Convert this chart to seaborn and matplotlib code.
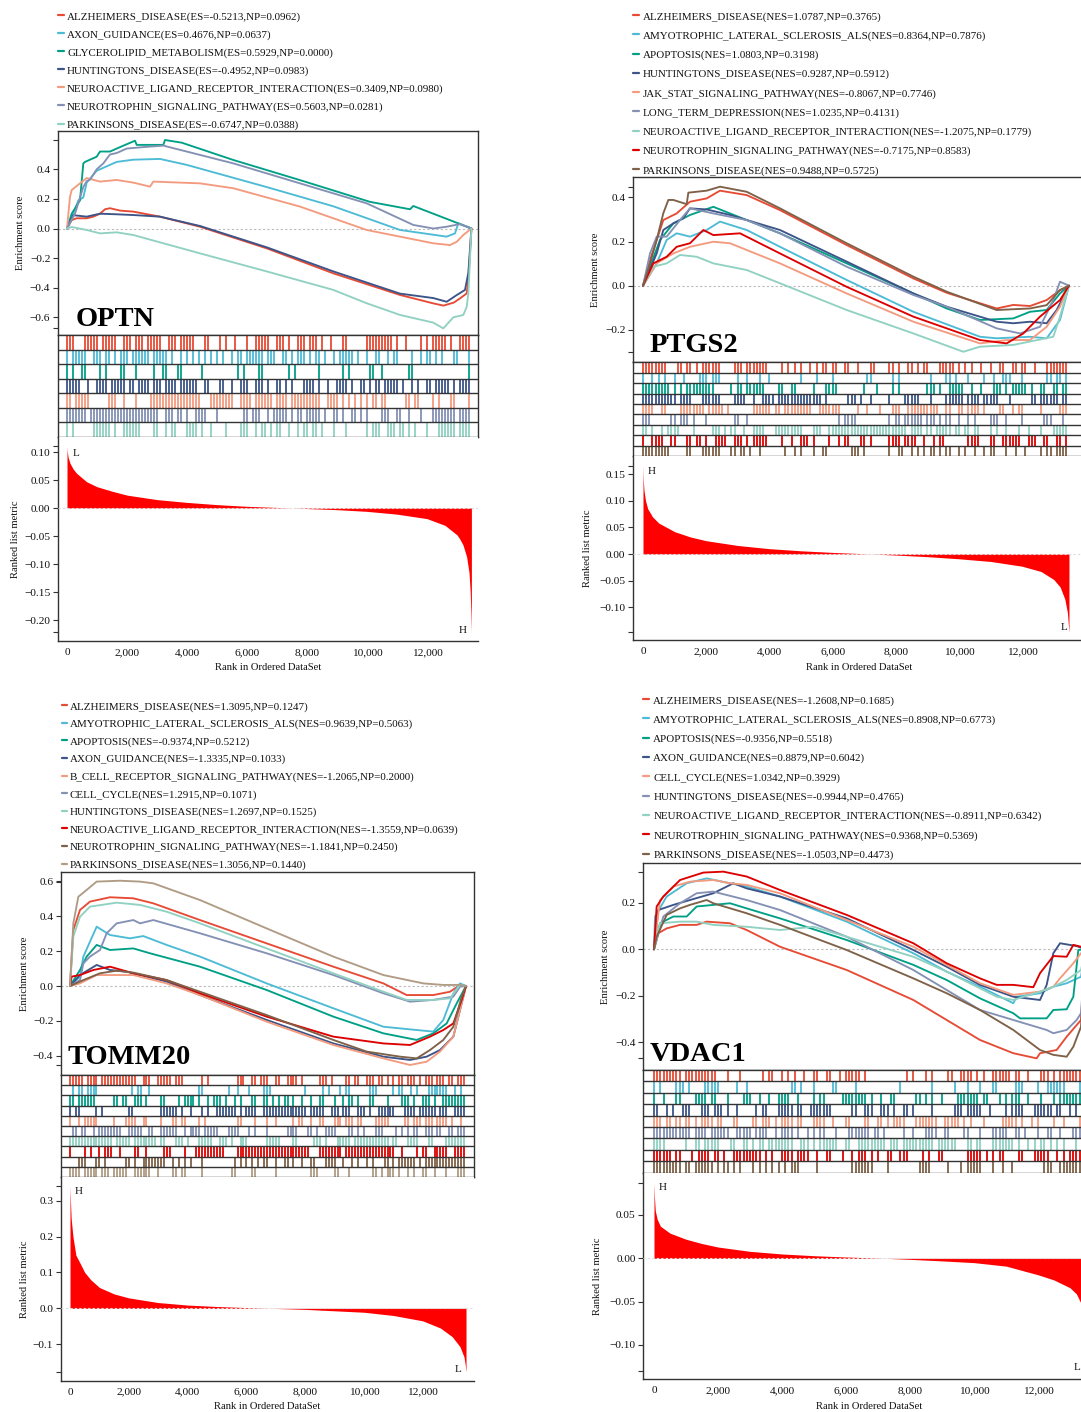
import numpy as np
import pandas as pd
import matplotlib
matplotlib.use("Agg")
import matplotlib.pyplot as plt
from matplotlib.lines import Line2D
from matplotlib.ticker import FuncFormatter, FixedLocator
import seaborn as sns

sns.set_theme(style="white")
plt.rcParams["font.family"] = ["Liberation Serif", "DejaVu Serif"]
plt.rcParams["axes.unicode_minus"] = True

W, H = 1081, 1412
NPG = ["#E64B35", "#4DBBD5", "#00A087", "#3C5488", "#F39B7F",
       "#8491B4", "#91D1C2", "#DC0000", "#7E6148", "#B09C85"]
XTICKS = [0, 2000, 4000, 6000, 8000, 10000, 12000]

# ---------------------------------------------------------------- OPTN
OPTN_SETS = ["ALZHEIMERS_DISEASE", "AXON_GUIDANCE", "GLYCEROLIPID_METABOLISM",
             "HUNTINGTONS_DISEASE", "NEUROACTIVE_LIGAND_RECEPTOR_INTERACTION",
             "NEUROTROPHIN_SIGNALING_PATHWAY", "PARKINSONS_DISEASE"]
OPTN_SCORE = [-0.5213, 0.4676, 0.5929, -0.4952, 0.3409, 0.5603, -0.6747]
OPTN_NP = [0.0962, 0.0637, 0.0000, 0.0983, 0.0980, 0.0281, 0.0388]
OPTN_ES = [
    [(0, 0), (156, .057), (322, .069), (656, .069), (878, .08), (1100, .10), (1267, .13), (1433, .137), (1767, .121), (2211, .114), (3100, .08), (4433, .012), (6656, -.134), (8878, -.303), (11100, -.449), (12211, -.506), (12550, -.521), (12900, -.50), (13100, -.472), (13322, -.439), (13378, -.349), (13433, -.168), (13480, 0)],
    [(0, 0), (211, .10), (378, .19), (544, .21), (656, .31), (989, .39), (1322, .42), (1656, .45), (2211, .465), (3100, .47), (3989, .43), (6656, .28), (8878, .15), (11100, -.01), (12656, -.055), (12933, -.033), (13044, .035), (13480, 0)],
    [(0, 0), (156, .10), (433, .19), (544, .44), (600, .45), (989, .485), (1100, .52), (1433, .52), (1767, .55), (2267, .593), (2322, .565), (3211, .565), (3267, .598), (3822, .58), (5544, .463), (7767, .327), (10100, .18), (11433, .13), (11544, .152), (12989, .039), (13480, 0)],
    [(0, 0), (211, .09), (656, .08), (1100, .10), (1656, .096), (2211, .091), (3100, .08), (4433, .017), (6656, -.127), (8878, -.29), (11100, -.44), (12211, -.47), (12656, -.495), (12989, -.45), (13267, -.415), (13378, -.30), (13480, 0)],
    [(0, 0), (100, .215), (156, .26), (433, .305), (656, .341), (1100, .317), (1656, .328), (2211, .31), (2767, .283), (2878, .317), (4433, .305), (5544, .272), (7767, .148), (9989, -.01), (12211, -.10), (12767, -.112), (12989, -.09), (13211, -.044), (13480, 0)],
    [(0, 0), (267, .10), (433, .21), (544, .28), (656, .32), (767, .33), (989, .40), (1211, .44), (1433, .50), (1656, .51), (1989, .54), (2544, .55), (3211, .560), (5544, .44), (7767, .305), (9989, .17), (11544, .024), (12211, 0), (12656, .012), (13100, .03), (13480, 0)],
    [(0, 0), (156, .01), (656, -.01), (1100, -.033), (1656, -.026), (2211, -.044), (4433, -.168), (6656, -.29), (8878, -.415), (9989, -.505), (11100, -.584), (12211, -.636), (12544, -.675), (12878, -.60), (13211, -.584), (13322, -.53), (13378, -.44), (13480, 0)],
]
# hit positions, in hundreds of ranks
OPTN_HITS = [
    [0,1,2,6,7,8,9,10,12,13,14,15,16,19,20,21,23,24,25,27,28,29,30,31,34,35,36,38,39,40,41,42,46,47,51,53,56,60,63,64,65,66,67,70,71,72,74,77,78,79,81,82,83,85,88,92,93,100,101,102,103,104,105,106,107,108,110,113,118,120,122,123,124,125,126,128,131,132,133,134],
    [0,2,3,4,5,6,9,10,11,13,14,16,18,19,20,22,23,24,25,26,27,29,30,31,32,33,35,38,40,42,44,46,48,50,52,55,57,58,60,61,62,63,64,65,67,68,69,72,73,75,77,78,79,81,83,84,86,89,91,92,93,94,95,97,100,103,104,107,109,110,115,118,120,121,123,125,129,130,134],
    [0,2,5,6,11,13,18,19,23,29,32,33,37,38,45,57,59,64,65,74,76,84,92,94,101,102,105,114,115,134],
    [0,1,2,3,4,7,10,11,12,13,15,16,17,18,19,21,22,24,25,26,27,29,30,31,33,34,35,36,38,39,40,41,42,43,46,47,51,52,55,58,59,60,63,64,65,67,70,71,73,75,79,80,81,82,84,87,90,91,92,93,95,98,99,101,103,104,106,107,108,109,110,112,115,117,120,121,123,124,125,126,127,129,131,132,133,134],
    [0,1,3,4,5,6,7,14,15,16,19,23,28,29,30,31,32,33,34,35,36,37,38,39,40,41,42,43,44,48,49,50,51,52,53,54,55,58,59,60,61,63,64,65,66,67,68,70,71,72,73,75,76,77,78,79,80,81,82,83,84,87,88,89,90,92,94,96,98,100,102,103,105,106,113,114,116,117,122,124,128,129,134],
    [0,1,2,3,4,5,6,8,9,10,11,12,13,14,15,16,17,18,19,20,21,22,23,24,25,26,27,28,29,30,33,34,35,37,38,40,43,44,45,46,50,59,60,62,63,64,67,69,70,71,72,73,75,77,78,80,81,82,83,84,86,89,90,92,95,96,98,100,105,106,107,110,111,114,118,122,123,124,125,126,127,128,129,131,132,133,134],
    [0,2,9,10,11,12,13,14,16,19,20,21,22,23,24,29,30,33,35,36,40,41,42,43,45,48,53,58,59,60,63,65,66,68,70,71,74,77,79,80,82,83,85,89,93,100,102,103,104,107,108,109,111,112,114,116,120,124,125,126,127,128,129,131,132,133,134],
]
OPTN_METRIC = [(0, .110), (10, .100), (40, .090), (100, .080), (200, .070), (320, .062), (650, .047), (1000, .038), (1500, .030), (2000, .023), (3000, .015), (4000, .010), (5000, .006), (6000, .003), (7000, .001), (8000, -.001), (9000, -.003), (10000, -.006), (11000, -.011), (12000, -.019), (12600, -.031), (13000, -.048), (13100, -.056), (13200, -.066), (13320, -.087), (13400, -.115), (13440, -.15), (13465, -.19), (13480, -.222)]

# ---------------------------------------------------------------- PTGS2
PTGS2_SETS = ["ALZHEIMERS_DISEASE", "AMYOTROPHIC_LATERAL_SCLEROSIS_ALS", "APOPTOSIS",
              "HUNTINGTONS_DISEASE", "JAK_STAT_SIGNALING_PATHWAY", "LONG_TERM_DEPRESSION",
              "NEUROACTIVE_LIGAND_RECEPTOR_INTERACTION", "NEUROTROPHIN_SIGNALING_PATHWAY",
              "PARKINSONS_DISEASE"]
PTGS2_SCORE = [1.0787, 0.8364, 1.0803, 0.9287, -0.8067, 1.0235, -1.2075, -0.7175, 0.9488]
PTGS2_NP = [0.3765, 0.7876, 0.3198, 0.5912, 0.7746, 0.4131, 0.1779, 0.8583, 0.5725]
PTGS2_ES = [
    [(0, 0), (222, .116), (643, .297), (1065, .327), (1487, .38), (2015, .395), (2437, .43), (3281, .41), (4335, .342), (6445, .184), (8555, .033), (9610, -.032), (11192, -.103), (11719, -.087), (12247, -.092), (12774, -.065), (13196, -.02), (13480, 0)],
    [(0, 0), (433, .101), (749, .207), (1065, .237), (1487, .222), (2015, .252), (2437, .29), (3281, .252), (4335, .176), (6445, .026), (8555, -.118), (10665, -.231), (11192, -.238), (12247, -.231), (12774, -.238), (13196, -.155), (13480, 0)],
    [(0, 0), (538, .207), (960, .282), (1487, .32), (2226, .357), (2753, .327), (4335, .237), (6445, .101), (8555, -.035), (9610, -.103), (10665, -.155), (11719, -.148), (12247, -.118), (12774, -.11), (13196, -.035), (13480, 0)],
    [(0, 0), (433, .146), (643, .252), (960, .282), (1276, .305), (1487, .35), (2015, .345), (2753, .32), (4335, .252), (6445, .109), (8555, -.035), (9610, -.095), (11192, -.163), (11719, -.17), (12247, -.163), (12774, -.17), (13091, -.11), (13480, 0)],
    [(0, 0), (433, .101), (960, .146), (1487, .176), (2226, .199), (2753, .192), (4335, .101), (6445, -.035), (8555, -.163), (10665, -.261), (11508, -.246), (12247, -.246), (12774, -.186), (13196, -.095), (13480, 0)],
    [(0, 0), (222, .146), (433, .222), (749, .222), (1171, .297), (1487, .35), (2226, .327), (3281, .297), (4335, .237), (6445, .086), (8555, -.042), (9610, -.095), (11192, -.193), (11930, -.216), (12563, -.186), (12985, -.065), (13196, .018), (13480, 0)],
    [(0, 0), (327, .086), (749, .101), (1171, .139), (1698, .131), (2226, .101), (3281, .071), (4335, .011), (6445, -.11), (8555, -.216), (10137, -.299), (10665, -.276), (11719, -.268), (12985, -.231), (13196, -.14), (13480, 0)],
    [(0, 0), (327, .101), (749, .131), (1065, .176), (1487, .192), (1909, .252), (2226, .229), (3070, .237), (4335, .146), (6445, -.005), (8555, -.14), (10665, -.246), (11508, -.261), (12036, -.216), (12563, -.14), (13196, -.065), (13480, 0)],
    [(0, 0), (222, .101), (433, .207), (643, .328), (802, .388), (960, .388), (1382, .369), (1435, .421), (2015, .43), (2437, .448), (3281, .425), (4335, .35), (6445, .192), (8555, .041), (9610, -.027), (11192, -.11), (12247, -.103), (12774, -.088), (13196, -.02), (13480, 0)],
]
PTGS2_HITS = [
    [0,1,2,3,4,5,6,7,11,12,14,15,17,19,20,21,22,23,24,29,30,31,33,34,35,36,37,38,39,44,46,48,50,53,55,57,58,60,61,64,65,68,72,73,78,79,81,84,85,87,89,90,94,95,96,97,98,100,102,104,107,110,113,114,117,118,120,121,124,128,129,130,131,132,133,134],
    [0,3,5,7,10,13,18,19,20,22,23,24,30,33,37,40,50,55,60,71,72,79,81,91,96,97,99,103,108,111,114,115,116,120,128,129,131,132,134],
    [0,1,2,3,4,5,6,7,8,10,12,14,15,16,17,18,19,20,21,22,28,30,31,33,34,35,36,37,38,43,44,47,48,54,58,59,60,61,70,74,79,81,90,91,92,94,97,98,99,100,101,104,107,111,112,113,115,117,118,119,120,121,123,126,127,130,131,133,134],
    [0,1,2,3,4,5,6,7,8,9,10,12,13,14,15,19,20,21,22,23,24,29,30,31,32,35,38,39,40,41,43,44,45,46,47,48,49,50,51,52,53,54,55,56,58,65,66,67,69,72,78,83,84,85,86,87,91,96,97,98,99,100,101,103,104,105,106,108,109,110,111,112,116,123,124,126,127,128,129,130,131,133,134],
    [0,1,2,3,6,7,12,13,14,15,16,17,18,19,21,22,23,24,25,27,35,36,37,38,39,40,42,43,45,46,47,48,49,50,51,52,53,56,57,58,59,60,61,62,68,71,75,79,80,81,84,85,86,87,88,89,90,91,92,93,96,97,100,101,103,104,105,106,108,113,114,117,119,120,126,132,133,134],
    [0,1,2,9,10,12,13,14,16,20,29,30,33,62,64,65,66,67,78,80,81,83,84,85,86,87,88,90,91,92,94,96,97,100,103,105,110,111,112,115,120,127,128,129,133],
    [0,1,3,6,8,9,10,11,16,22,23,24,26,28,29,32,35,36,37,38,42,43,44,45,46,47,48,49,50,54,55,56,59,60,61,62,63,64,65,66,67,68,69,70,71,72,73,74,75,76,77,78,79,80,81,82,83,85,86,87,88,90,91,93,94,95,96,97,99,100,102,103,105,106,110,112,115,119,122,126,130,131,132,133,134],
    [0,3,4,5,6,9,10,14,15,17,18,20,23,24,25,26,29,30,31,33,35,36,37,38,39,44,47,50,51,52,54,59,62,64,65,69,70,72,78,79,80,81,83,84,85,86,89,92,94,95,103,104,105,106,110,111,114,115,116,117,118,119,122,123,124,127,128,131,132,134],
    [0,1,2,3,4,5,6,7,8,14,15,19,20,21,22,23,24,28,29,31,32,34,37,45,48,50,54,57,58,66,67,68,70,78,81,82,85,87,89,91,92,94,96,97,100,102,105,108,110,111,115,118,121,126,128,129,131,132,133,134],
]
PTGS2_METRIC = [(0, .166), (10, .14), (30, .12), (80, .10), (150, .085), (300, .07), (500, .058), (1000, .042), (1500, .032), (2000, .025), (3000, .016), (4000, .010), (5000, .006), (6000, .003), (7000, .0005), (8000, -.002), (9000, -.005), (10000, -.009), (11000, -.014), (12000, -.023), (12600, -.033), (13000, -.048), (13200, -.062), (13350, -.085), (13430, -.11), (13470, -.14), (13480, -.147)]

# ---------------------------------------------------------------- TOMM20
TOMM20_SETS = ["ALZHEIMERS_DISEASE", "AMYOTROPHIC_LATERAL_SCLEROSIS_ALS", "APOPTOSIS",
               "AXON_GUIDANCE", "B_CELL_RECEPTOR_SIGNALING_PATHWAY", "CELL_CYCLE",
               "HUNTINGTONS_DISEASE", "NEUROACTIVE_LIGAND_RECEPTOR_INTERACTION",
               "NEUROTROPHIN_SIGNALING_PATHWAY", "PARKINSONS_DISEASE"]
TOMM20_SCORE = [1.3095, 0.9639, -0.9374, -1.3335, -1.2065, 1.2915, 1.2697, -1.3559, -1.1841, 1.3056]
TOMM20_NP = [0.1247, 0.5063, 0.5212, 0.1033, 0.2000, 0.1071, 0.1525, 0.0639, 0.2450, 0.1440]
TOMM20_ES = [
    [(0, 0), (113, .322), (340, .437), (680, .485), (1361, .51), (2154, .504), (2834, .475), (4422, .379), (6689, .245), (8957, .111), (10658, .015), (11451, -.052), (12358, -.052), (12925, -.033), (13265, .006), (13470, 0)],
    [(0, 0), (340, .054), (454, .169), (907, .341), (1361, .293), (2041, .274), (2494, .287), (3288, .236), (4422, .169), (6689, .015), (8957, -.128), (10658, -.234), (11791, -.253), (12358, -.262), (12698, -.195), (13039, -.042), (13265, .015), (13470, 0)],
    [(0, 0), (340, .092), (567, .169), (907, .236), (1361, .207), (2154, .216), (2721, .188), (4422, .111), (6689, -.023), (8957, -.176), (10658, -.272), (11791, -.31), (12358, -.272), (12812, -.215), (13152, -.10), (13470, 0)],
    [(0, 0), (340, .063), (907, .121), (1361, .092), (1927, .082), (3288, .025), (4422, -.052), (6689, -.195), (8957, -.33), (10658, -.406), (11565, -.425), (12132, -.406), (12585, -.368), (13039, -.291), (13379, -.061), (13470, 0)],
    [(0, 0), (340, .015), (907, .063), (1361, .063), (2154, .063), (3288, .015), (4422, -.052), (6689, -.205), (8957, -.339), (10658, -.416), (11565, -.454), (12132, -.435), (12585, -.377), (13039, -.291), (13379, -.061), (13470, 0)],
    [(0, 0), (340, .034), (454, .13), (680, .169), (1020, .207), (1247, .303), (1587, .36), (2154, .379), (2381, .36), (2834, .379), (4422, .303), (6689, .188), (8957, .063), (10658, -.042), (11565, -.09), (12358, -.08), (13039, -.061), (13265, -.004), (13470, 0)],
    [(0, 0), (113, .284), (340, .398), (680, .456), (1587, .479), (2381, .466), (3288, .427), (4422, .36), (6689, .216), (8957, .073), (10658, -.033), (11451, -.08), (12358, -.08), (12925, -.071), (13265, .006), (13470, 0)],
    [(0, 0), (57, .054), (340, .063), (794, .092), (1361, .111), (2154, .073), (3288, .034), (4422, -.042), (6689, -.176), (8957, -.291), (10658, -.33), (11565, -.339), (12245, -.291), (12698, -.253), (13039, -.215), (13322, -.08), (13470, 0)],
    [(0, 0), (454, .034), (1020, .073), (1587, .088), (2154, .077), (3288, .034), (4422, -.033), (6689, -.167), (8957, -.31), (10091, -.377), (11224, -.406), (11791, -.416), (12245, -.368), (12698, -.31), (13039, -.234), (13322, -.061), (13470, 0)],
    [(0, 0), (113, .36), (283, .513), (567, .552), (907, .60), (1701, .605), (2381, .60), (2834, .59), (4422, .494), (6689, .331), (8957, .169), (10658, .063), (12018, .015), (12698, .006), (13265, .006), (13470, 0)],
]
TOMM20_HITS = [
    [0,1,2,3,4,6,7,8,9,11,12,13,14,15,16,17,18,19,20,21,22,25,26,27,30,31,32,33,34,36,37,38,45,47,57,58,59,62,63,65,66,67,70,71,74,75,76,77,79,85,86,87,89,94,95,97,98,101,102,103,105,106,108,110,112,113,115,116,117,119,121,122,123,125,126,127,129,130,132,133,134],
    [1,3,4,6,7,8,9,21,23,24,27,44,45,54,57,61,66,67,68,80,86,88,92,94,95,102,103,104,110,112,113,116,118,122,123,124,125,126,127,128,131,133],
    [0,1,3,4,5,6,7,8,15,16,18,19,22,23,24,26,31,32,37,39,40,41,42,44,47,49,50,51,53,56,58,62,63,66,67,69,71,73,74,76,79,82,85,86,90,93,95,96,98,102,103,108,113,114,115,117,120,121,122,124,127,128,129,130,131,132,133,134],
    [0,2,3,9,11,20,21,31,32,33,34,35,36,38,41,45,47,50,51,52,53,54,55,56,58,60,61,62,63,66,67,68,69,70,71,72,73,74,75,76,77,78,79,80,82,83,84,85,86,89,90,91,93,94,95,98,99,100,102,105,106,107,108,109,110,114,115,116,117,119,120,121,122,123,124,126,127,128,131,132,133,134],
    [0,3,5,6,7,8,9,15,19,20,21,22,25,26,31,35,36,38,39,44,46,57,58,63,67,70,76,78,79,82,85,86,90,91,92,94,95,96,98,99,104,105,106,107,108,114,115,117,118,119,121,122,123,125,126,127,128,130,133],
    [1,2,4,5,8,10,11,12,13,14,15,16,17,20,21,22,23,24,27,28,31,32,33,34,35,36,39,41,42,43,44,46,47,48,49,50,54,55,56,57,61,63,67,74,75,76,77,81,82,84,87,88,89,90,95,96,98,100,104,105,106,111,113,115,117,118,121,122,123,125,126,129,130,132,133,134],
    [0,1,2,3,4,5,6,7,8,9,10,11,12,13,14,16,17,18,19,20,22,23,24,25,26,27,28,29,31,32,36,37,38,40,44,45,46,47,48,51,52,53,55,58,59,60,67,68,69,70,71,76,77,83,84,85,87,91,92,93,94,95,97,98,99,100,101,102,103,104,105,106,107,108,110,111,115,116,117,118,122,123,128,129,130,131,132,133,134],
    [0,5,7,10,12,13,14,17,22,23,26,32,33,34,39,43,44,45,46,47,48,49,50,51,52,57,58,59,60,61,62,63,64,65,66,67,68,69,70,71,72,73,74,75,76,77,78,79,80,81,85,86,87,88,89,90,91,92,94,95,96,97,98,99,100,101,102,103,104,105,106,107,108,109,110,113,118,120,121,124,125,126,127,128,131,132,133,134],
    [3,4,5,9,10,12,19,20,22,25,26,27,28,29,30,31,32,35,37,39,41,45,56,58,60,62,64,66,67,70,73,74,76,79,82,83,87,88,89,90,93,96,98,101,103,107,108,110,112,113,114,115,116,117,119,121,122,123,124,125,126,127,128,129,130,131,132,133,134],
    [0,1,2,3,5,6,7,8,9,11,12,13,15,16,17,18,19,22,23,24,25,26,27,30,35,36,38,39,45,55,56,62,63,70,82,83,84,90,91,95,103,104,106,108,109,110,112,115,117,120,121,124,128,132,133,134],
]
TOMM20_METRIC = [(0, .341), (15, .30), (40, .25), (100, .20), (200, .148), (340, .126), (500, .100), (700, .080), (1000, .058), (1500, .040), (2000, .029), (3000, .016), (4000, .009), (5000, .005), (6000, .002), (7000, -.0005), (8000, -.003), (9000, -.007), (10000, -.011), (11000, -.020), (12000, -.035), (12600, -.055), (13000, -.079), (13265, -.107), (13400, -.135), (13440, -.155), (13470, -.178)]

# ---------------------------------------------------------------- VDAC1
VDAC1_SETS = ["ALZHEIMERS_DISEASE", "AMYOTROPHIC_LATERAL_SCLEROSIS_ALS", "APOPTOSIS",
              "AXON_GUIDANCE", "CELL_CYCLE", "HUNTINGTONS_DISEASE",
              "NEUROACTIVE_LIGAND_RECEPTOR_INTERACTION", "NEUROTROPHIN_SIGNALING_PATHWAY",
              "PARKINSONS_DISEASE"]
VDAC1_SCORE = [-1.2608, 0.8908, -0.9356, 0.8879, 1.0342, -0.9944, -0.8911, 0.9368, -1.0503]
VDAC1_NP = [0.1685, 0.6773, 0.5518, 0.6042, 0.3929, 0.4765, 0.6342, 0.5369, 0.4473]
VDAC1_ES = [
    [(0, 0), (135, .069), (396, .09), (813, .105), (1333, .105), (1646, .119), (2375, .112), (2896, .083), (3938, .011), (6021, -.089), (8104, -.218), (9146, -.304), (10188, -.39), (11229, -.447), (11958, -.469), (12063, -.447), (12583, -.433), (12896, -.376), (13344, -.304), (13480, 0)],
    [(0, 0), (31, .141), (396, .227), (1021, .284), (1646, .305), (2375, .284), (2896, .27), (3938, .227), (6021, .119), (8104, -.017), (9146, -.096), (10188, -.161), (11229, -.232), (11333, -.204), (12063, -.189), (12479, -.161), (12896, -.146), (13344, -.118), (13480, 0)],
    [(0, 0), (188, .112), (604, .141), (1021, .141), (1333, .184), (1854, .191), (2375, .198), (2896, .176), (3938, .133), (6021, .04), (8104, -.067), (9146, -.132), (10188, -.211), (11229, -.275), (11438, -.297), (12271, -.297), (12479, -.261), (12896, -.258), (13104, -.204), (13260, -.003), (13480, 0)],
    [(0, 0), (135, .169), (604, .191), (1125, .212), (1854, .241), (2479, .284), (2896, .262), (3938, .227), (6021, .133), (8104, -.003), (9146, -.075), (10188, -.153), (11229, -.204), (12063, -.218), (12271, -.153), (12479, -.017), (12688, .026), (13208, .014), (13480, 0)],
    [(0, 0), (188, .212), (604, .27), (1125, .291), (1854, .298), (2375, .284), (2896, .277), (3938, .241), (6021, .126), (8104, .011), (9146, -.067), (10188, -.146), (11229, -.196), (12063, -.182), (12479, -.161), (12688, -.125), (13104, -.06), (13344, -.017), (13480, 0)],
    [(0, 0), (292, .141), (813, .198), (1333, .241), (1854, .248), (2896, .212), (3938, .169), (6021, .054), (8104, -.089), (9146, -.175), (10188, -.261), (11229, -.304), (12271, -.347), (12479, -.361), (12896, -.347), (13208, -.304), (13344, -.275), (13480, 0)],
    [(0, 0), (188, .112), (813, .119), (1333, .119), (1854, .105), (2896, .097), (3938, .083), (4979, .097), (6021, .054), (8104, -.032), (9146, -.096), (10188, -.168), (10708, -.204), (11229, -.218), (12063, -.182), (12479, -.161), (12896, -.132), (13344, -.089), (13480, 0)],
    [(0, 0), (83, .184), (292, .227), (813, .298), (1542, .33), (2167, .334), (2896, .313), (3938, .255), (6021, .148), (8104, .026), (9146, -.06), (10188, -.125), (10708, -.153), (11229, -.153), (11854, -.163), (12063, -.103), (12479, -.029), (12896, -.032), (13104, .019), (13344, .011), (13480, 0)],
    [(0, 0), (83, .054), (396, .148), (813, .176), (1125, .191), (1646, .212), (1854, .198), (2896, .155), (3938, .105), (6021, -.003), (8104, -.125), (9146, -.189), (10188, -.261), (11229, -.347), (12063, -.433), (12479, -.454), (12896, -.462), (13104, -.419), (13344, -.333), (13480, 0)],
]
VDAC1_HITS = [
    [0,1,2,3,4,5,6,7,8,10,11,12,13,14,15,16,17,18,19,23,27,34,36,37,40,42,44,47,50,51,54,55,58,60,61,62,63,64,66,79,81,85,87,92,93,96,97,98,99,101,103,106,107,108,109,110,111,113,114,117,121,122,123,125,127,128,129,130,131,132,133],
    [0,2,7,8,9,11,16,17,18,19,20,26,29,43,44,46,50,56,57,63,77,87,94,98,102,106,107,113,114,115,120,123,124,125,126,127,128,133],
    [0,3,7,8,13,14,15,16,18,19,23,28,29,30,33,36,39,40,41,42,45,50,52,53,59,60,61,62,63,64,65,66,68,71,74,75,82,83,85,87,90,95,96,97,98,99,100,101,103,104,108,110,112,113,114,117,121,125,127,128,129,130,131,132,133],
    [0,1,4,6,9,10,11,15,16,17,19,20,21,23,26,32,34,35,39,40,41,42,43,45,46,49,50,51,52,53,54,55,62,63,66,67,68,71,72,73,75,78,79,81,87,94,95,96,98,99,100,101,102,105,110,112,113,114,115,119,120,121,122,123,124,126,127,130,132],
    [0,1,2,4,5,7,8,10,11,13,15,16,17,18,20,21,25,26,31,32,34,35,36,38,40,41,42,43,45,46,50,51,52,53,56,60,61,66,67,70,71,73,75,76,77,78,82,83,84,85,86,87,88,91,92,93,94,95,97,99,103,109,110,111,112,113,115,118,120,125,128,133],
    [0,1,2,3,4,5,6,7,8,9,10,11,13,14,15,16,18,19,20,21,22,23,26,27,28,29,30,32,33,34,35,38,40,41,42,43,45,48,50,52,53,57,61,62,63,64,65,66,67,69,70,72,78,81,85,86,87,88,91,92,97,98,102,106,107,108,109,110,113,114,116,120,123,124,127,131,132,133],
    [0,1,2,3,10,13,14,16,17,18,19,20,24,25,28,29,31,33,34,36,37,38,39,40,41,42,43,46,47,48,50,52,53,54,55,56,57,60,61,64,65,66,67,68,69,70,71,72,74,75,76,78,79,80,81,82,83,84,85,86,87,89,90,91,92,93,94,98,99,101,102,106,107,108,109,110,111,112,114,117,119,121,122,124,126,128,132],
    [0,1,2,3,4,5,7,8,12,14,15,16,17,19,20,22,25,26,27,28,29,30,31,32,33,35,37,40,41,42,43,45,46,47,48,51,54,55,59,62,64,65,66,68,70,73,74,77,78,79,84,86,89,90,98,99,100,101,102,104,106,108,109,114,115,119,120,121,122,123,126,128,130,131,132,133],
    [0,1,2,3,4,5,6,7,8,10,11,13,14,15,16,17,18,20,22,23,25,27,31,33,35,37,39,41,43,44,45,51,62,63,64,65,66,67,68,73,83,84,85,86,92,96,98,99,100,101,102,106,109,112,122,123,124,127,128,129,130,131,132,133],
]
VDAC1_METRIC = [(0, .087), (15, .07), (40, .055), (100, .045), (200, .037), (500, .029), (1000, .022), (1500, .017), (2000, .013), (3000, .008), (4000, .005), (5000, .003), (6000, .0015), (7000, .0003), (8000, -.0012), (9000, -.003), (10000, -.005), (11000, -.009), (12000, -.019), (12500, -.025), (13000, -.034), (13200, -.041), (13344, -.052), (13420, -.075), (13480, -.13)]

# ---------------------------------------------------------------- layout (pixels)
LAYOUT = {
    "OPTN": dict(left=58, right=478, es_top=131, strip_top=335, strip_bot=437, rank_bot=641,
                 x0=67, ppr=0.030, es_zero=228.5, es_ppu=148, rk_zero=508, rk_ppu=560,
                 ly0=16.7, ldy=18.05, dash=(58, 64), tx=67, gene=(76, 326),
                 es_lab_x=21, rk_lab_x=16, xlab_y=667, top_xy=(73, 453), bot_xy=(467, 630),
                 es_ticks=[-0.6, -0.4, -0.2, 0.0, 0.2, 0.4], es_fmt="{:.1f}",
                 rk_ticks=[-0.20, -0.15, -0.10, -0.05, 0.0, 0.05, 0.10], rk_fmt="{:.2f}"),
    "PTGS2": dict(left=633, right=1085, es_top=177, strip_top=362.3, strip_bot=456, rank_bot=640,
                  x0=643, ppr=0.0316, es_zero=285.7, es_ppu=221, rk_zero=554, rk_ppu=532,
                  ly0=16.7, ldy=19.25, dash=(633, 639), tx=643, gene=(650, 352),
                  es_lab_x=595, rk_lab_x=588, xlab_y=667, top_xy=(648, 471), bot_xy=(1067, 628),
                  es_ticks=[-0.2, 0.0, 0.2, 0.4], es_fmt="{:.1f}",
                  rk_ticks=[-0.10, -0.05, 0.0, 0.05, 0.10, 0.15], rk_fmt="{:.2f}"),
    "TOMM20": dict(left=61, right=474, es_top=871.7, strip_top=1075, strip_bot=1177, rank_bot=1380.7,
                   x0=70, ppr=0.0294, es_zero=986, es_ppu=174, rk_zero=1308.3, rk_ppu=359,
                   ly0=706.7, ldy=17.6, dash=(61.5, 66.5), tx=70, gene=(68, 1064),
                   es_lab_x=25, rk_lab_x=25, xlab_y=1406.7, top_xy=(75, 1191), bot_xy=(461, 1369),
                   es_ticks=[-0.4, -0.2, 0.0, 0.2, 0.4, 0.6], es_fmt="{:.1f}",
                   rk_ticks=[-0.1, 0.0, 0.1, 0.2, 0.3], rk_fmt="{:.1f}"),
    "VDAC1": dict(left=643.3, right=1095, es_top=862.7, strip_top=1070, strip_bot=1172.7, rank_bot=1379.3,
                  x0=654, ppr=0.032, es_zero=949.3, es_ppu=232.5, rk_zero=1258.3, rk_ppu=867,
                  ly0=700.7, ldy=19.3, dash=(643, 649), tx=653.3, gene=(650, 1060.7),
                  es_lab_x=605, rk_lab_x=598, xlab_y=1406.7, top_xy=(659, 1188), bot_xy=(1080, 1367),
                  es_ticks=[-0.4, -0.2, 0.0, 0.2], es_fmt="{:.1f}",
                  rk_ticks=[-0.10, -0.05, 0.0, 0.05], rk_fmt="{:.2f}"),
}

LEG_FS, TICK_FS, LAB_FS, GENE_FS, HL_FS = 7.9, 8.2, 7.6, 20.5, 8
EDGE = "#333333"


def rect(x0, y0, x1, y1):
    return [x0 / W, 1 - y1 / H, (x1 - x0) / W, (y1 - y0) / H]


def fmt(pattern):
    return FuncFormatter(lambda v, _: pattern.format(v).replace("-", "\u2212"))


def style_frame(ax, sides):
    for s in ["left", "right", "top", "bottom"]:
        ax.spines[s].set_visible(s in sides)
        ax.spines[s].set_color(EDGE)
        ax.spines[s].set_linewidth(1.0)


def draw_panel(fig, gene, L, names, key, scores, nps, es_curves, hits, metric, top_letter, bot_letter):
    colors = NPG[:len(names)]
    xlim = ((L["left"] - L["x0"]) / L["ppr"], (L["right"] - L["x0"]) / L["ppr"])

    # legend
    for i, (nm, sc, p, c) in enumerate(zip(names, scores, nps, colors)):
        y = L["ly0"] + i * L["ldy"]
        fig.add_artist(Line2D([L["dash"][0] / W, L["dash"][1] / W], [1 - (y - 1.5) / H] * 2,
                              color=c, lw=1.6, transform=fig.transFigure))
        fig.text(L["tx"] / W, 1 - y / H, f"{nm}({key}={sc:.4f},NP={p:.4f})",
                 fontsize=LEG_FS, va="center", ha="left", color="#111111")

    # enrichment score
    ax = fig.add_axes(rect(L["left"], L["es_top"], L["right"], L["strip_top"]))
    all_es = []
    for curve, c in zip(es_curves, colors):
        df = pd.DataFrame(curve, columns=["rank", "es"])
        all_es.extend(df["es"].tolist())
        sns.lineplot(data=df, x="rank", y="es", color=c, lw=1.35, ax=ax,
                     estimator=None, errorbar=None, sort=False, legend=False)
    ax.axhline(0, color="#BBBBBB", lw=0.8, ls=(0, (2, 2)), zorder=0)
    ax.set_xlim(xlim)
    ax.set_ylim(-(L["strip_top"] - L["es_zero"]) / L["es_ppu"], (L["es_zero"] - L["es_top"]) / L["es_ppu"])
    ax.set_xticks([])
    ax.set_yticks(L["es_ticks"])
    ax.yaxis.set_minor_locator(FixedLocator([min(all_es), max(all_es)]))
    ax.yaxis.set_major_formatter(fmt(L["es_fmt"]))
    ax.tick_params(axis="y", which="both", left=True, length=3.5, width=0.8, color=EDGE,
                   labelsize=TICK_FS, pad=2, labelcolor="#111111")
    ax.set_xlabel("")
    ax.set_ylabel("")
    style_frame(ax, ["left", "right", "top", "bottom"])
    fig.text(L["gene"][0] / W, 1 - L["gene"][1] / H, gene, fontsize=GENE_FS,
             fontweight="bold", ha="left", va="baseline", color="black")
    fig.text(L["es_lab_x"] / W, 1 - (L["es_top"] + L["strip_top"]) / 2 / H, "Enrichment score",
             rotation=90, fontsize=LAB_FS, ha="center", va="center", color="#111111")

    # hit strip
    ax = fig.add_axes(rect(L["left"], L["strip_top"], L["right"], L["strip_bot"]))
    n = len(hits)
    for i, (h, c) in enumerate(zip(hits, colors)):
        ax.vlines(np.asarray(h) * 100, n - i - 1, n - i, color=c, lw=1.3)
    for k in range(1, n):
        ax.axhline(k, color=EDGE, lw=1.0)
    ax.set_xlim(xlim)
    ax.set_ylim(0, n)
    ax.set_xticks([])
    ax.set_yticks([])
    style_frame(ax, ["left", "right", "top", "bottom"])

    # ranked list metric
    ax = fig.add_axes(rect(L["left"], L["strip_bot"], L["right"], L["rank_bot"]))
    mdf = pd.DataFrame(metric, columns=["rank", "metric"])
    ax.fill_between(mdf["rank"], mdf["metric"], 0, color="#FF0000", lw=0)
    ax.axhline(0, color="#DDDDDD", lw=0.8, ls=(0, (2, 2)), zorder=3)
    ax.set_xlim(xlim)
    ax.set_ylim(-(L["rank_bot"] - L["rk_zero"]) / L["rk_ppu"], (L["rk_zero"] - L["strip_bot"]) / L["rk_ppu"])
    ax.set_yticks(L["rk_ticks"])
    ax.yaxis.set_minor_locator(FixedLocator([mdf["metric"].min(), mdf["metric"].max()]))
    ax.yaxis.set_major_formatter(fmt(L["rk_fmt"]))
    ax.set_xticks(XTICKS)
    ax.xaxis.set_major_formatter(FuncFormatter(lambda v, _: f"{int(v):,}"))
    ax.tick_params(axis="y", which="both", left=True, length=3.5, width=0.8, color=EDGE,
                   labelsize=TICK_FS, pad=2, labelcolor="#111111")
    ax.tick_params(axis="x", bottom=True, length=0, labelsize=TICK_FS, pad=5, labelcolor="#111111")
    style_frame(ax, ["left", "bottom"])
    fig.text(L["rk_lab_x"] / W, 1 - (L["strip_bot"] + L["rank_bot"]) / 2 / H, "Ranked list metric",
             rotation=90, fontsize=LAB_FS, ha="center", va="center", color="#111111")
    fig.text((L["left"] + L["right"]) / 2 / W, 1 - L["xlab_y"] / H, "Rank in Ordered DataSet",
             fontsize=LAB_FS, ha="center", va="center", color="#111111")
    fig.text(L["top_xy"][0] / W, 1 - L["top_xy"][1] / H, top_letter, fontsize=HL_FS,
             ha="left", va="center", color="#111111")
    fig.text(L["bot_xy"][0] / W, 1 - L["bot_xy"][1] / H, bot_letter, fontsize=HL_FS,
             ha="right", va="center", color="#111111")


fig = plt.figure(figsize=(W / 100, H / 100), dpi=100)
fig.patch.set_facecolor("white")

draw_panel(fig, "OPTN", LAYOUT["OPTN"], OPTN_SETS, "ES", OPTN_SCORE, OPTN_NP,
           OPTN_ES, OPTN_HITS, OPTN_METRIC, "L", "H")
draw_panel(fig, "PTGS2", LAYOUT["PTGS2"], PTGS2_SETS, "NES", PTGS2_SCORE, PTGS2_NP,
           PTGS2_ES, PTGS2_HITS, PTGS2_METRIC, "H", "L")
draw_panel(fig, "TOMM20", LAYOUT["TOMM20"], TOMM20_SETS, "NES", TOMM20_SCORE, TOMM20_NP,
           TOMM20_ES, TOMM20_HITS, TOMM20_METRIC, "H", "L")
draw_panel(fig, "VDAC1", LAYOUT["VDAC1"], VDAC1_SETS, "NES", VDAC1_SCORE, VDAC1_NP,
           VDAC1_ES, VDAC1_HITS, VDAC1_METRIC, "H", "L")

fig.savefig("out.png", dpi=100, facecolor="white")
